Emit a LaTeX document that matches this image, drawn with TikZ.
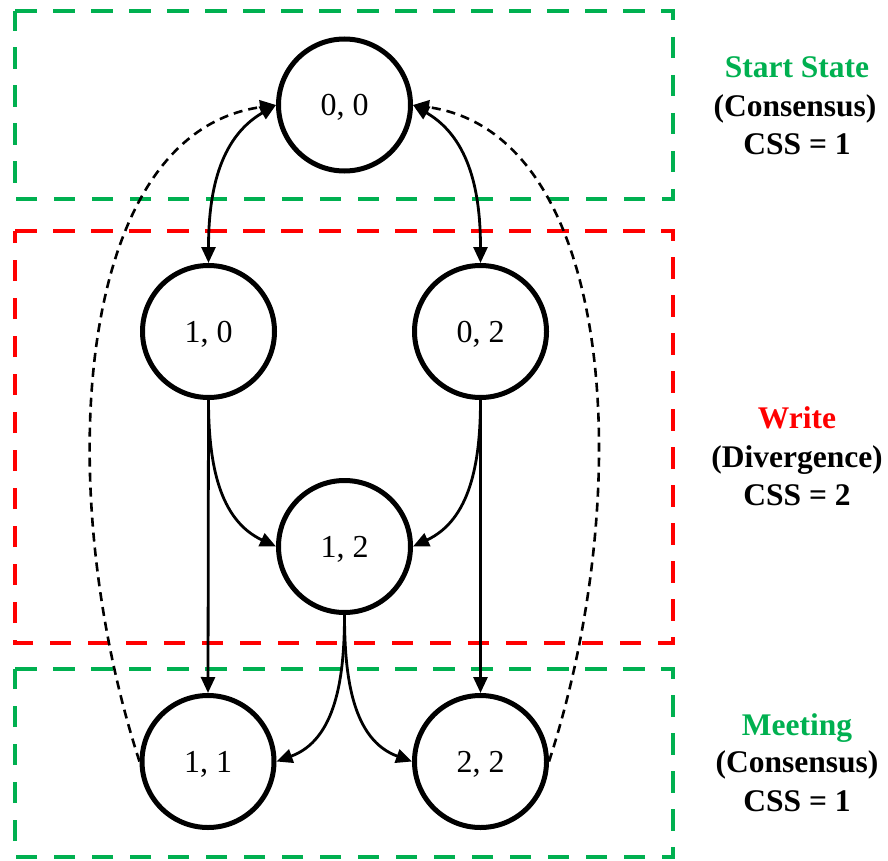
\documentclass[tikz,border=0pt]{standalone}
\usepackage{fontspec}
\setmainfont{LiberationSerif}[Extension=.ttf, UprightFont=*-Regular, BoldFont=*-Bold]
\usetikzlibrary{arrows.meta}
\definecolor{zonegreen}{RGB}{0,176,80}
\definecolor{zonered}{RGB}{255,0,0}
\begin{document}
\begin{tikzpicture}[x=1pt,y=1pt,
  state/.style={circle, draw, line width=5pt, minimum size=132pt, inner sep=0pt,
    font=\rmfamily\fontsize{32}{32}\selectfont, text height=21.5pt, text depth=0pt},
  zone/.style={line width=4.5pt, dash pattern=on 21.5pt off 16.5pt},
  link/.style={line width=2.8pt, -{Triangle[length=16pt,width=14pt]}},
  twoway/.style={line width=2.8pt, {Triangle[length=16pt,width=14pt]}-{Triangle[length=16pt,width=14pt]}},
  back/.style={line width=2.6pt, dash pattern=on 9pt off 6pt, -{Triangle[length=16pt,width=14pt]}},
  tag/.style={font=\rmfamily\bfseries\fontsize{31.5}{31.5}\selectfont, anchor=base, inner sep=0pt}]

\useasboundingbox (0,0) rectangle (888,-861);

% phase zones
\draw[zone, zonegreen] (15,-11) -- (673,-11) -- (673,-199) -- (15,-199) -- cycle;
\draw[zone, zonered] (15,-231) -- (673,-231) -- (673,-643) -- (15,-643) -- cycle;
\draw[zone, zonegreen] (15,-669) -- (673,-669) -- (673,-857) -- (15,-857) -- cycle;

% states
\node[state] (n00) at (344.5,-105) {0, 0};
\node[state] (n10) at (208.5,-331.5) {1, 0};
\node[state] (n02) at (480.5,-331.5) {0, 2};
\node[state] (n12) at (344.5,-546.5) {1, 2};
\node[state] (n11) at (208,-761.5) {1, 1};
\node[state] (n22) at (480.5,-761.5) {2, 2};

% transitions
\draw[twoway] (n00.west) to[out=210,in=90] (n10.north);
\draw[twoway] (n00.east) to[out=-30,in=90] (n02.north);
\draw[link] (n10.south) -- (n11.north);
\draw[link] (n02.south) -- (n22.north);
\draw[link] (n10.south) to[out=-90,in=155] (n12.west);
\draw[link] (n02.south) to[out=-90,in=25] (n12.east);
\draw[link] (n12.south) to[out=-90,in=20] (n11.east);
\draw[link] (n12.south) to[out=-90,in=160] (n22.west);
\draw[back] (n11.west) .. controls +(108:285) and +(188:205) .. (n00.west);
\draw[back] (n22.east) .. controls +(72:285) and +(-8:205) .. (n00.east);

% phase labels
\node[tag, text=zonegreen] (l1a) at (797,-77.7) {Start State};
\node[tag] (l1b) at (795,-116.7) {(Consensus)};
\node[tag] (l1c) at (797,-155) {CSS = 1};
\node[tag, text=zonered] (l2a) at (797,-428.3) {Write};
\node[tag] (l2b) at (797,-467) {(Divergence)};
\node[tag] (l2c) at (797,-505) {CSS = 2};
\node[tag, text=zonegreen] (l3a) at (797,-735) {Meeting};
\node[tag] (l3b) at (797,-772.7) {(Consensus)};
\node[tag] (l3c) at (797,-811.7) {CSS = 1};
\end{tikzpicture}
\end{document}
